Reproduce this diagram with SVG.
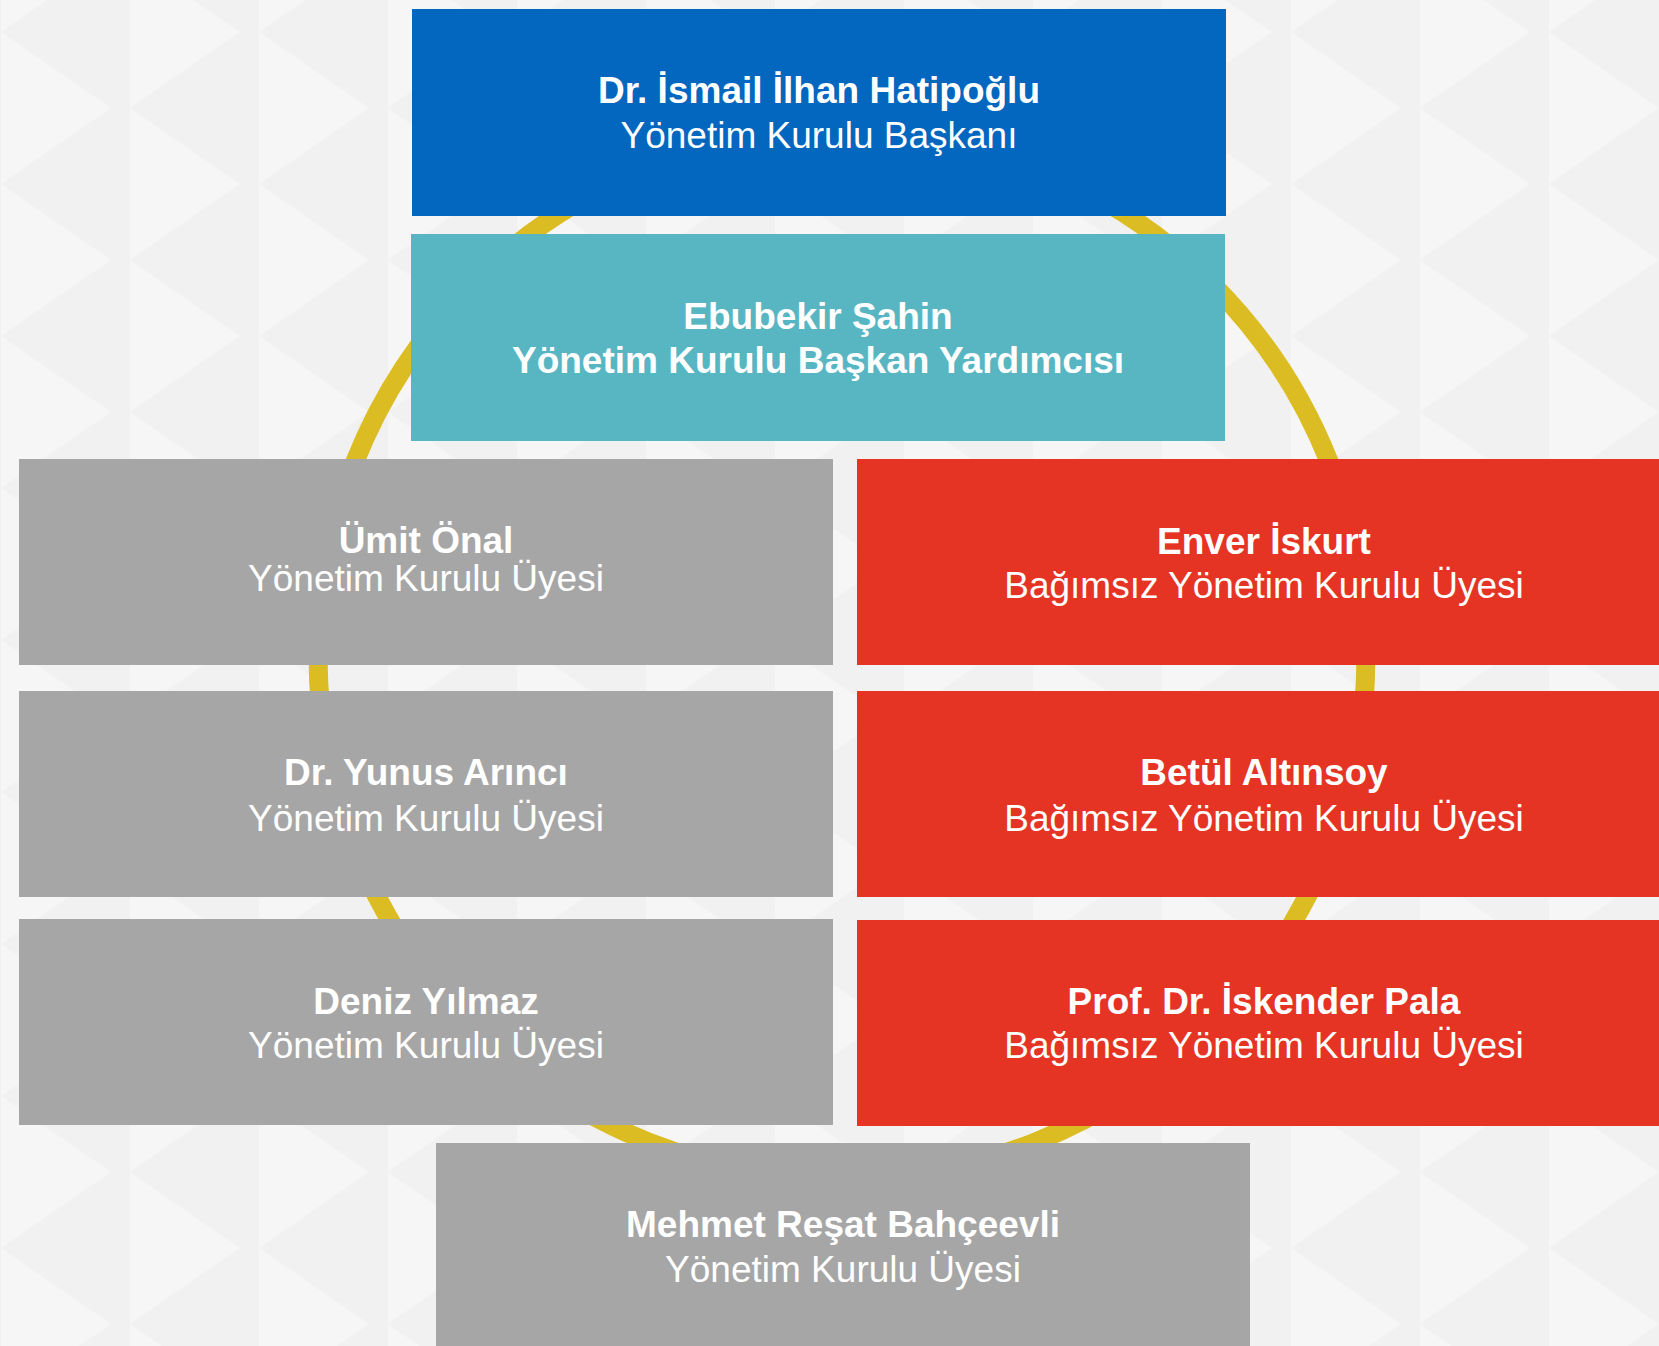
<svg xmlns="http://www.w3.org/2000/svg" width="1659" height="1346" viewBox="0 0 1659 1346">
  <defs>
    <pattern id="bgtri" patternUnits="userSpaceOnUse" x="1" y="0" width="258" height="152">
      <rect x="0" y="0" width="258" height="152" fill="#f1f1f1"/>
      <polygon points="0,32 110,108 0,184" fill="#f6f6f6"/>
      <polygon points="0,-120 110,-44 0,32" fill="#f6f6f6"/>
      <polygon points="129,-44 239,32 129,108" fill="#f6f6f6"/>
      <polygon points="129,108 239,184 129,260" fill="#f6f6f6"/>
    </pattern>
    <style>
      .box-blue { fill: #0366bf; }
      .box-teal { fill: #58b6c3; }
      .box-gray { fill: #a6a6a6; }
      .box-red { fill: #e53324; }
      .name { font-family: "Liberation Sans", Arial, sans-serif; font-weight: bold; font-size: 37px; fill: #ffffff; text-anchor: middle; }
      .role { font-family: "Liberation Sans", Arial, sans-serif; font-size: 37px; fill: #ffffff; text-anchor: middle; }
      .ring { fill: none; stroke: #dbbd23; stroke-width: 19; }
    </style>
  </defs>

  <rect x="0" y="0" width="1659" height="1346" fill="url(#bgtri)"/>

  <g id="connectors">
    <circle class="ring" cx="842" cy="655" r="524"/>
  </g>

  <g id="node-baskan">
    <rect class="box-blue" x="412" y="9" width="814" height="207"/>
    <text class="name" x="819" y="103">Dr. İsmail İlhan Hatipoğlu</text>
    <text class="role" x="819" y="148">Yönetim Kurulu Başkanı</text>
  </g>

  <g id="node-baskan-yardimcisi">
    <rect class="box-teal" x="411" y="234" width="814" height="207"/>
    <text class="name" x="818" y="329">Ebubekir Şahin</text>
    <text class="name" x="818" y="373">Yönetim Kurulu Başkan Yardımcısı</text>
  </g>

  <g id="node-umit-onal">
    <rect class="box-gray" x="19" y="459" width="814" height="206"/>
    <text class="name" x="426" y="553">Ümit Önal</text>
    <text class="role" x="426" y="591">Yönetim Kurulu Üyesi</text>
  </g>

  <g id="node-yunus-arinci">
    <rect class="box-gray" x="19" y="691" width="814" height="206"/>
    <text class="name" x="426" y="785">Dr. Yunus Arıncı</text>
    <text class="role" x="426" y="831">Yönetim Kurulu Üyesi</text>
  </g>

  <g id="node-deniz-yilmaz">
    <rect class="box-gray" x="19" y="919" width="814" height="206"/>
    <text class="name" x="426" y="1014">Deniz Yılmaz</text>
    <text class="role" x="426" y="1058">Yönetim Kurulu Üyesi</text>
  </g>

  <g id="node-enver-iskurt">
    <rect class="box-red" x="857" y="459" width="814" height="206"/>
    <text class="name" x="1264" y="554">Enver İskurt</text>
    <text class="role" x="1264" y="598">Bağımsız Yönetim Kurulu Üyesi</text>
  </g>

  <g id="node-betul-altinsoy">
    <rect class="box-red" x="857" y="691" width="814" height="206"/>
    <text class="name" x="1264" y="785">Betül Altınsoy</text>
    <text class="role" x="1264" y="831">Bağımsız Yönetim Kurulu Üyesi</text>
  </g>

  <g id="node-iskender-pala">
    <rect class="box-red" x="857" y="920" width="814" height="206"/>
    <text class="name" x="1264" y="1014">Prof. Dr. İskender Pala</text>
    <text class="role" x="1264" y="1058">Bağımsız Yönetim Kurulu Üyesi</text>
  </g>

  <g id="node-resat-bahceevli">
    <rect class="box-gray" x="436" y="1143" width="814" height="210"/>
    <text class="name" x="843" y="1237">Mehmet Reşat Bahçeevli</text>
    <text class="role" x="843" y="1282">Yönetim Kurulu Üyesi</text>
  </g>
</svg>
